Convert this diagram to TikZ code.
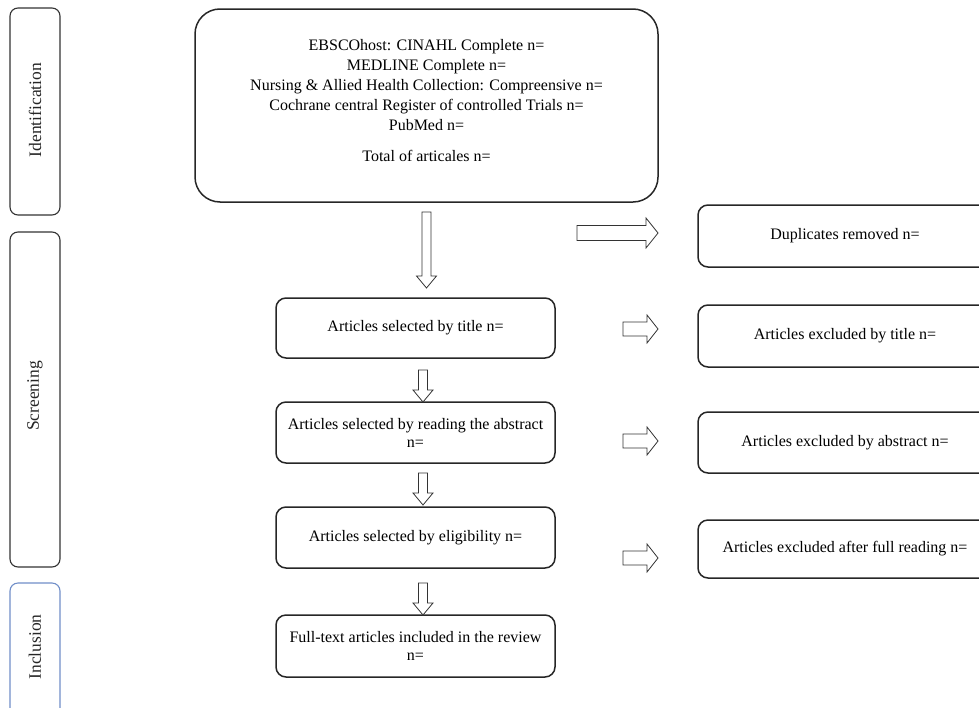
\documentclass[tikz,border=0pt]{standalone}
\usepackage{fontspec}
\setmainfont{Liberation Serif}
\usetikzlibrary{calc}
\definecolor{incblue}{RGB}{112,142,200}
\newcommand\varrowfig[2]{\draw[barrow] let \p1=(#1),\p2=(#2) in
  (\x1-4.5pt,\y1) -- (\x1-4.5pt,\y2+12pt) -- (\x1-10pt,\y2+12pt) -- (\x1,\y2) --
  (\x1+10pt,\y2+12pt) -- (\x1+4.5pt,\y2+12pt) -- (\x1+4.5pt,\y1) -- cycle;}
\newcommand\harrowfig[5]{\draw[barrow] let \p1=(#1),\p2=(#2) in
  (\x1,\y1+#3) -- (\x2-#5,\y1+#3) -- (\x2-#5,\y1+#4) -- (\x2,\y1) --
  (\x2-#5,\y1-#4) -- (\x2-#5,\y1-#3) -- (\x1,\y1-#3) -- cycle;}
\begin{document}
\begin{tikzpicture}[x=1pt,y=1pt,
  stage/.style={draw=black!80, line width=1.1pt, rounded corners=8pt, minimum width=50pt, inner sep=0pt},
  stagelbl/.style={rotate=90, font=\fontsize{17.5}{20}\selectfont, text=black!85},
  box/.style={draw=black!85, line width=1.5pt, rounded corners=10pt, align=center, inner sep=0pt,
    font=\fontsize{16}{18}\selectfont},
  barrow/.style={draw=black!80, line width=0.8pt, fill=white, line join=miter}
]
\useasboundingbox (0,0) rectangle (979,-707);
\clip (0,0) rectangle (979,-707);

% stage bars
\node[stage, minimum height=207pt] (sid) at (35,-111.5) {};
\node[stagelbl] (lid) at (35,-110) {Identification};
\node[stage, minimum height=335pt] (sscr) at (35,-399.5) {};
\node[stagelbl] (lscr) at (35,-396) {Screening};
\node[stage, draw=incblue, minimum height=140pt] (sinc) at (35,-653) {};
\node[stagelbl] (linc) at (35,-647) {Inclusion};

% top box
\node[box, rounded corners=25pt, minimum width=463pt, minimum height=193pt] (top) at (426.5,-105.5) {};
\node[font=\fontsize{16}{20}\selectfont, align=center, inner sep=0pt] (toptxt) at (426.5,-101) {EBSCOhost: CINAHL Complete n=\\
MEDLINE Complete n=\\
Nursing \& Allied Health Collection: Compreensive n=\\
Cochrane central Register of controlled Trials n=\\
PubMed n=\\[11pt]
Total of articales n=};

% middle column
\node[box, minimum width=279pt, minimum height=60pt] (sel) at (415.5,-328) {Articles selected by title n=};
\node[box, minimum width=279pt, minimum height=61pt] (abs) at (415.5,-432.5) {Articles selected by reading the abstract\\n=};
\node[box, minimum width=279pt, minimum height=61pt] (elig) at (415.5,-537.5) {Articles selected by eligibility n=};
\node[box, minimum width=279pt, minimum height=62pt] (full) at (415.5,-646) {Full-text articles included in the review\\n=};

% right column
\node[box, minimum width=294pt, minimum height=62pt] (dup) at (845,-236) {Duplicates removed n=};
\node[box, minimum width=294pt, minimum height=62pt] (extit) at (845,-336) {Articles excluded by title n=};
\node[box, minimum width=294pt, minimum height=61pt] (exabs) at (845,-442.5) {Articles excluded by abstract n=};
\node[box, minimum width=294pt, minimum height=58pt] (exfull) at (845,-549) {Articles excluded after full reading n=};

% arrow end points
\coordinate (d1a) at (426.5,-212); \coordinate (d1b) at (426.5,-288);
\coordinate (d2a) at (423,-370);   \coordinate (d2b) at (423,-402);
\coordinate (d3a) at (423,-473);   \coordinate (d3b) at (423,-505);
\coordinate (d4a) at (423,-583);   \coordinate (d4b) at (423,-615);
\coordinate (h1a) at (577,-233);   \coordinate (h1b) at (658,-233);
\coordinate (h2a) at (623,-329);   \coordinate (h2b) at (658,-329);
\coordinate (h3a) at (623,-441);   \coordinate (h3b) at (658,-441);
\coordinate (h4a) at (623,-558);   \coordinate (h4b) at (658,-558);

\varrowfig{d1a}{d1b}
\varrowfig{d2a}{d2b}
\varrowfig{d3a}{d3b}
\varrowfig{d4a}{d4b}
\harrowfig{h1a}{h1b}{7.5pt}{15pt}{12pt}
\harrowfig{h2a}{h2b}{7pt}{14pt}{11pt}
\harrowfig{h3a}{h3b}{7pt}{14pt}{11pt}
\harrowfig{h4a}{h4b}{7pt}{14pt}{11pt}
\end{tikzpicture}
\end{document}
